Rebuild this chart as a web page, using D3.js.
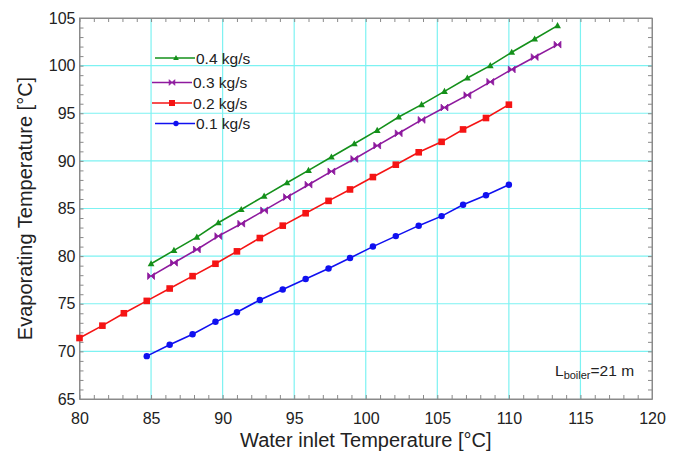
<!DOCTYPE html>
<html><head><meta charset="utf-8">
<script src="https://cdn.jsdelivr.net/npm/d3@7"></script>
<style>
html,body{margin:0;padding:0;background:#fff;}
svg{display:block;font-family:"Liberation Sans",Arial,sans-serif;}
</style></head>
<body><svg id="chart" width="680" height="460"></svg>
<script>
// ---- data ----
const xTicks = [80, 85, 90, 95, 100, 105, 110, 115, 120];
const yTicks = [65, 70, 75, 80, 85, 90, 95, 100, 105];

const seriesNames = ["0.4 kg/s", "0.3 kg/s", "0.2 kg/s", "0.1 kg/s"];

const xGreen = [85.0, 86.6, 88.2, 89.7, 91.3, 92.9, 94.5, 96.0, 97.6, 99.2, 100.8, 102.3, 103.9, 105.5, 107.1, 108.7, 110.2, 111.8, 113.4];
const yGreen = [79.2, 80.6, 82.0, 83.5, 84.9, 86.3, 87.7, 89.0, 90.4, 91.8, 93.2, 94.6, 95.9, 97.3, 98.7, 100.0, 101.4, 102.8, 104.2];

const xPurple = [85.0, 86.6, 88.2, 89.7, 91.3, 92.9, 94.5, 96.0, 97.6, 99.2, 100.8, 102.3, 103.9, 105.5, 107.1, 108.7, 110.2, 111.8, 113.4];
const yPurple = [77.9, 79.3, 80.7, 82.1, 83.4, 84.8, 86.2, 87.5, 88.9, 90.2, 91.6, 92.9, 94.3, 95.6, 96.9, 98.3, 99.6, 100.9, 102.2];

const xRed = [80.0, 81.6, 83.1, 84.7, 86.3, 87.9, 89.5, 91.0, 92.6, 94.2, 95.8, 97.4, 98.9, 100.5, 102.1, 103.7, 105.3, 106.8, 108.4, 110.0];
const yRed = [71.4, 72.7, 74.0, 75.3, 76.6, 77.9, 79.2, 80.5, 81.9, 83.2, 84.5, 85.8, 87.0, 88.3, 89.6, 90.9, 92.0, 93.3, 94.5, 95.9];

const xBlue = [84.7, 86.3, 87.9, 89.5, 91.0, 92.6, 94.2, 95.8, 97.4, 98.9, 100.5, 102.1, 103.7, 105.3, 106.8, 108.4, 110.0];
const yBlue = [69.5, 70.7, 71.8, 73.1, 74.1, 75.4, 76.5, 77.6, 78.7, 79.8, 81.0, 82.1, 83.2, 84.2, 85.4, 86.4, 87.5];

// ---- layout ----
const L = 79.5, R = 652, T = 18, B = 399;
const svg = d3.select("#chart");
const x = d3.scaleLinear().domain([80, 120]).range([L, R]);
const y = d3.scaleLinear().domain([65, 105]).range([B, T]);

const series = [
  {name: seriesNames[0], xs: xGreen, ys: yGreen, color: "#14901a", marker: "tri"},
  {name: seriesNames[1], xs: xPurple, ys: yPurple, color: "#8e1a9e", marker: "bow"},
  {name: seriesNames[2], xs: xRed, ys: yRed, color: "#f51414", marker: "sq"},
  {name: seriesNames[3], xs: xBlue, ys: yBlue, color: "#1010f0", marker: "circ"}
];

// grid
const gridColor = "#7df2f2";
const gx = xTicks.filter(v => v > 80 && v < 120);
const gy = yTicks.filter(v => v > 65 && v < 105);
svg.append("g").selectAll("line").data(gx).join("line")
  .attr("x1", d => x(d)).attr("x2", d => x(d)).attr("y1", T).attr("y2", B)
  .attr("stroke", gridColor).attr("stroke-width", 1.2);
svg.append("g").selectAll("line").data(gy).join("line")
  .attr("y1", d => y(d)).attr("y2", d => y(d)).attr("x1", L).attr("x2", R)
  .attr("stroke", gridColor).attr("stroke-width", 1.2);

// frame
const frameColor = "#8a8a8a";
svg.append("rect").attr("x", L).attr("y", T).attr("width", R - L).attr("height", B - T)
  .attr("fill", "none").attr("stroke", frameColor).attr("stroke-width", 1);

// axes with minor ticks (inward)
const minorX = d3.range(80, 121, 1);
const minorY = d3.range(65, 106, 1);
const tickLen = 4;
const axB = svg.append("g").attr("transform", `translate(0,${B})`)
  .call(d3.axisBottom(x).tickValues(minorX).tickSizeInner(-tickLen).tickSizeOuter(0).tickFormat(""));
const axT = svg.append("g").attr("transform", `translate(0,${T})`)
  .call(d3.axisTop(x).tickValues(minorX).tickSizeInner(-tickLen).tickSizeOuter(0).tickFormat(""));
const axL = svg.append("g").attr("transform", `translate(${L},0)`)
  .call(d3.axisLeft(y).tickValues(minorY).tickSizeInner(-tickLen).tickSizeOuter(0).tickFormat(""));
const axR = svg.append("g").attr("transform", `translate(${R},0)`)
  .call(d3.axisRight(y).tickValues(minorY).tickSizeInner(-tickLen).tickSizeOuter(0).tickFormat(""));
[axB, axT, axL, axR].forEach(a => {
  a.select(".domain").attr("stroke", frameColor);
  a.selectAll(".tick line").attr("stroke", frameColor);
});

// tick labels
const labX = svg.append("g").attr("transform", `translate(0,${B})`)
  .call(d3.axisBottom(x).tickValues(xTicks).tickSize(0).tickPadding(10).tickFormat(d3.format("d")));
labX.select(".domain").remove();
labX.selectAll("text").attr("font-size", 16).attr("fill", "#222")
  .attr("font-family", "Liberation Sans, Arial, sans-serif").attr("dy", "0.95em");
const labY = svg.append("g").attr("transform", `translate(${L},0)`)
  .call(d3.axisLeft(y).tickValues(yTicks).tickSize(0).tickPadding(4).tickFormat(d3.format("d")));
labY.select(".domain").remove();
labY.selectAll("text").attr("font-size", 16).attr("fill", "#222")
  .attr("font-family", "Liberation Sans, Arial, sans-serif");

// axis titles
svg.append("text").attr("x", (L + R) / 2).attr("y", 447).attr("text-anchor", "middle")
  .attr("font-size", 20).attr("fill", "#222").text("Water inlet Temperature [°C]");
svg.append("text").attr("transform", `translate(32,${(T + B) / 2}) rotate(-90)`)
  .attr("text-anchor", "middle").attr("font-size", 20).attr("fill", "#222")
  .text("Evaporating Temperature [°C]");

// markers
function drawMarker(g, type, color, s) {
  if (type === "circ") {
    g.append("circle").attr("r", s * 0.95).attr("fill", color);
  } else if (type === "sq") {
    g.append("rect").attr("x", -s).attr("y", -s).attr("width", 2 * s).attr("height", 2 * s).attr("fill", color);
  } else if (type === "tri") {
    g.append("path").attr("d", `M0,${-s * 1.05}L${s},${s * 0.75}L${-s},${s * 0.75}Z`).attr("fill", color);
  } else if (type === "bow") {
    g.append("path").attr("d", `M${-s},${-s}L${s},${s}L${s},${-s}L${-s},${s}Z`)
      .attr("fill", color).attr("stroke", color).attr("stroke-width", 0.8);
  }
}

const line = d3.line().x(d => x(d[0])).y(d => y(d[1]));
series.slice().reverse().forEach(s => {
  const pts = s.xs.map((v, i) => [v, s.ys[i]]);
  const g = svg.append("g");
  g.append("path").attr("d", line(pts)).attr("fill", "none")
    .attr("stroke", s.color).attr("stroke-width", 1.6);
  pts.forEach(p => {
    const m = g.append("g").attr("transform", `translate(${x(p[0])},${y(p[1])})`);
    drawMarker(m, s.marker, s.color, s.marker === "sq" ? 3.3 : 3.4);
  });
});

// legend
const legRows = [
  {y: 58, x1: 155, x2: 195, mx: 176, tx: 196},
  {y: 82.5, x1: 152, x2: 192, mx: 172, tx: 193},
  {y: 103, x1: 152, x2: 192, mx: 172, tx: 193},
  {y: 123.5, x1: 155, x2: 195, mx: 176, tx: 196}
];
series.forEach((s, i) => {
  const r = legRows[i];
  const g = svg.append("g");
  g.append("line").attr("x1", r.x1).attr("x2", r.x2).attr("y1", r.y).attr("y2", r.y)
    .attr("stroke", s.color).attr("stroke-width", 1.6);
  const m = g.append("g").attr("transform", `translate(${r.mx},${r.y})`);
  drawMarker(m, s.marker, s.color, s.marker === "sq" ? 3 : 2.8);
  g.append("text").attr("x", r.tx).attr("y", r.y).attr("dy", "0.36em")
    .attr("font-size", 15.5).attr("fill", "#222").text(s.name);
});

// annotation
const ann = svg.append("text").attr("x", 555).attr("y", 376).attr("font-size", 15.5).attr("fill", "#222");
ann.append("tspan").text("L");
ann.append("tspan").attr("font-size", 11).attr("dy", 3).text("boiler");
ann.append("tspan").attr("dy", -3).text("=21 m");
</script></body></html>
